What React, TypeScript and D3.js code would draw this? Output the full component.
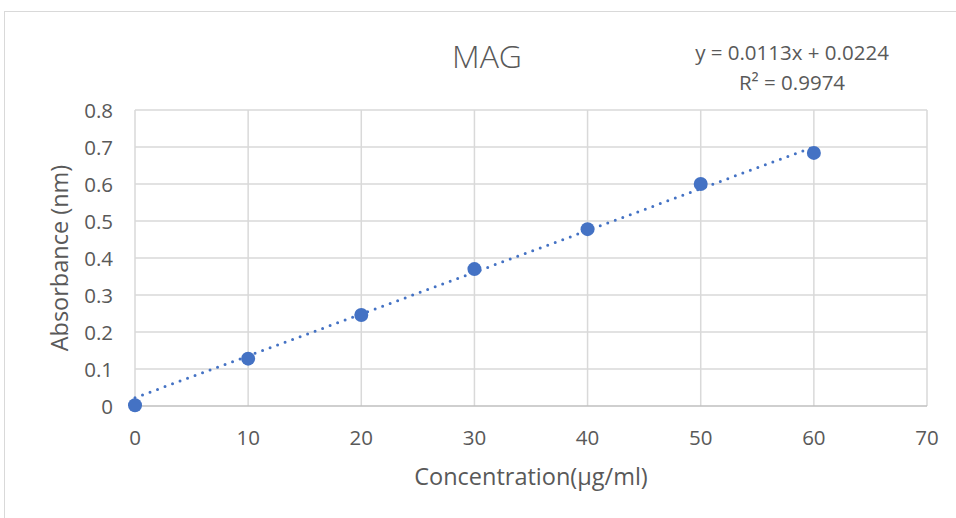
import * as d3 from "d3";
import React from "react";

const concentration = [0, 10, 20, 30, 40, 50, 60];
const absorbance = [0.002, 0.128, 0.246, 0.37, 0.478, 0.6, 0.684];
const xTickValues = [0, 10, 20, 30, 40, 50, 60, 70];
const yTickValues = [0, 0.1, 0.2, 0.3, 0.4, 0.5, 0.6, 0.7, 0.8];
const trendSlope = 0.0113;
const trendIntercept = 0.0224;
const trendLabel = "y = 0.0113x + 0.0224";
const r2Value = "0.9974";

export default function App() {
  const width = 956;
  const height = 518;

  const margin = { left: 135, right: 29, top: 110, bottom: 112 };

  const x = d3
    .scaleLinear()
    .domain([0, 70])
    .range([margin.left, width - margin.right]);

  const y = d3
    .scaleLinear()
    .domain([0, 0.8])
    .range([height - margin.bottom, margin.top]);

  const line = d3
    .line<number>()
    .x((d) => x(d))
    .y((d) => y(trendSlope * d + trendIntercept));

  const trendXs = [0, 60];
  const font = "'Open Sans', 'Noto Sans', sans-serif";
  const textColor = "#595959";
  const gridColor = "#d9d9d9";
  const blue = "#4472C4";

  return (
    <svg
      width={width}
      height={height}
      style={{ position: "absolute", left: 0, top: 0, background: "white" }}
      fontFamily={font}
    >
      <rect
        x={4.5}
        y={11.5}
        width={width}
        height={height}
        fill="white"
        stroke={gridColor}
      />
      <g>
        {xTickValues.map((t) => (
          <line
            key={"xg" + t}
            x1={x(t)}
            x2={x(t)}
            y1={y(0)}
            y2={y(0.8)}
            stroke={gridColor}
            strokeWidth={1.5}
          />
        ))}
        {yTickValues.map((t) => (
          <line
            key={"yg" + t}
            x1={x(0)}
            x2={x(70)}
            y1={y(t)}
            y2={y(t)}
            stroke={t === 0 ? "#bfbfbf" : gridColor}
            strokeWidth={1.5}
          />
        ))}
      </g>
      <g fill={textColor} fontSize="20.5">
        {xTickValues.map((t) => (
          <text key={"xt" + t} x={x(t)} y={y(0) + 39} textAnchor="middle">
            {t}
          </text>
        ))}
        {yTickValues.map((t) => (
          <text
            key={"yt" + t}
            x={x(0) - 22}
            y={y(t)}
            textAnchor="end"
            dominantBaseline="central"
          >
            {t}
          </text>
        ))}
      </g>
      <path
        d={line(trendXs) || ""}
        fill="none"
        stroke={blue}
        strokeWidth={3}
        strokeLinecap="round"
        strokeDasharray="0 8"
      />
      {concentration.map((c, i) => (
        <circle key={"p" + i} cx={x(c)} cy={y(absorbance[i])} r={7} fill={blue} />
      ))}
      <text
        x={487}
        y={68}
        textAnchor="middle"
        fontSize="32"
        fill={textColor}
        fontWeight={300}
      >
        MAG
      </text>
      <text x={792} y={60} textAnchor="middle" fontSize="20.5" fill={textColor}>
        {trendLabel}
      </text>
      <text x={792} y={90} textAnchor="middle" fontSize="20.5" fill={textColor}>
        R² = {r2Value}
      </text>
      <text
        x={531}
        y={485}
        textAnchor="middle"
        fontSize="23.5"
        fill={textColor}
      >
        Concentration(µg/ml)
      </text>
      <text
        transform={`translate(68, ${(y(0) + y(0.8)) / 2}) rotate(-90)`}
        textAnchor="middle"
        fontSize="23.5"
        fill={textColor}
      >
        Absorbance (nm)
      </text>
    </svg>
  );
}
